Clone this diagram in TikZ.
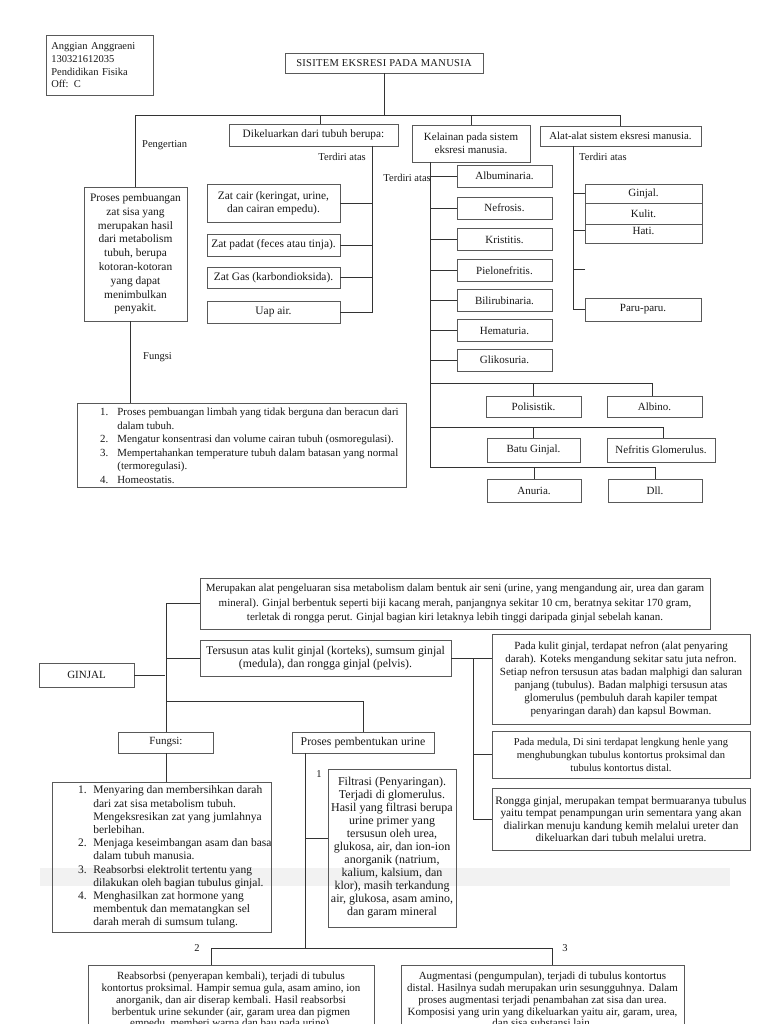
\documentclass[tikz,border=0pt]{standalone}
\usepackage{fontspec}
\setmainfont{Liberation Serif}
\begin{document}
\begin{tikzpicture}[x=1pt,y=-1pt,
  every node/.style={font=\fontsize{10.5}{13.4}\selectfont, inner sep=0pt, text=black!90},
  bx/.style={draw=black!65, line width=0.7pt, align=center},
  ln/.style={draw=black!80, line width=0.8pt},
  lbl/.style={font=\fontsize{10.5}{13.4}\selectfont}]
\useasboundingbox (0,0) rectangle (768,1024);
\clip (0,0) rectangle (768,1024);
\fill[white] (0,0) rectangle (768,1024);
\fill[black!5] (40,868) rectangle (730,886);

% ---------- header ----------
\node[bx, align=left, anchor=north west, text width=97, inner xsep=5, minimum height=60,
      font=\fontsize{10.5}{12.6}\selectfont] (hdr) at (46,35)
  {Anggian Anggraeni\\130321612035\\Pendidikan Fisika\\Off: C};
\node[bx, minimum width=198, minimum height=20] (sis) at (384,63)
  {\addfontfeatures{LetterSpace=3}SISITEM EKSRESI PADA MANUSIA};

% ---------- level 1 ----------
\node[bx, minimum width=169, minimum height=22, font=\fontsize{11.3}{13}\selectfont] (dik) at (313.5,135) {Dikeluarkan dari tubuh berupa:};
\node[bx, minimum width=118, minimum height=37, font=\fontsize{11}{13}\selectfont] (kel) at (471,143.5) {Kelainan pada sistem\\eksresi manusia.};
\node[bx, minimum width=161, minimum height=20, font=\fontsize{10.8}{13}\selectfont] (alat) at (620.5,136) {Alat-alat sistem eksresi manusia.};
\node[bx, minimum width=103, minimum height=134, font=\fontsize{11.4}{13.8}\selectfont] (peng) at (135.5,254)
  {Proses pembuangan\\zat sisa yang\\merupakan hasil\\dari metabolism\\tubuh, berupa\\kotoran-kotoran\\yang dapat\\menimbulkan\\penyakit.};

\draw[ln] (sis.south) -- ++(0,42) coordinate (busc);
\draw[ln] (peng.north) |- (alat.north |- busc) -- (alat.north);
\draw[ln] ([xshift=6.5]dik.north) -- ([xshift=6.5]dik.north |- busc);
\draw[ln] (kel.north) -- (kel.north |- busc);

\node[lbl, anchor=west] (lpeng) at (142,145) {Pengertian};
\node[lbl, anchor=west] (lfung) at (143,357) {Fungsi};

% top fungsi list
\node[bx, anchor=north west, minimum width=329, minimum height=84] (fl) at (77,403) {};
\node[anchor=north west, align=left, font=\fontsize{10.9}{13.5}\selectfont] (flt) at (100,406)
 {\begin{tabular}{@{}r@{\hspace{9pt}}l@{}}
 1. & Proses pembuangan limbah yang tidak berguna dan beracun dari\\
    & dalam tubuh.\\
 2. & Mengatur konsentrasi dan volume cairan tubuh (osmoregulasi).\\
 3. & Mempertahankan temperature tubuh dalam batasan yang normal\\
    & (termoregulasi).\\
 4. & Homeostatis.
 \end{tabular}};
\draw[ln] ([xshift=-5.5]peng.south) -- ([xshift=-5.5]peng.south |- fl.north);

% ---------- dikeluarkan column ----------
\tikzset{zat/.style={bx, minimum width=133, font=\fontsize{11.4}{13}\selectfont}}
\node[zat, minimum height=38] (zc) at (273.5,203) {Zat cair (keringat, urine,\\dan cairan empedu).};
\node[zat, minimum height=22] (zp) at (273.5,245) {Zat padat (feces atau tinja).};
\node[zat, minimum height=21] (zg) at (273.5,277.5) {Zat Gas (karbondioksida).};
\node[zat, minimum height=22] (ua) at (273.5,312) {Uap air.};
\coordinate (dT) at (372,146);
\draw[ln] (dT) |- (ua.east);
\draw[ln] (zc.east) -- (zc.east -| dT);
\draw[ln] (zp.east) -- (zp.east -| dT);
\draw[ln] (zg.east) -- (zg.east -| dT);
\node[lbl, anchor=east] (ldik) at (366,157) {Terdiri atas};

% ---------- kelainan column ----------
\tikzset{kb/.style={bx, font=\fontsize{11}{13}\selectfont}}
\foreach \n/\t/\yy in {k1/Albuminaria./176, k2/Nefrosis./208, k3/Kristitis./239.5, k4/Pielonefritis./270.5,
   k5/Bilirubinaria./300.5, k6/Hematuria./330.5, k7/Glikosuria./360}
  {\node[kb, minimum width=95, minimum height=22] (\n) at (504.5,\yy) {\t};}
\node[kb, minimum width=95, minimum height=21] (pol) at (533.5,406.5) {Polisistik.};
\node[kb, minimum width=95, minimum height=21] (alb) at (654.5,406.5) {Albino.};
\node[kb, minimum width=93, minimum height=24] (batu) at (533.5,450) {Batu Ginjal.};
\node[kb, minimum width=108, minimum height=24] (nef) at (661,450) {Nefritis Glomerulus.};
\node[kb, minimum width=94, minimum height=23] (anu) at (534,490.5) {Anuria.};
\node[kb, minimum width=94, minimum height=23] (dll) at (655,490.5) {Dll.};
\coordinate (kT) at (430,162);
\draw[ln] (kT) |- (dll.north |- 0,467) -- (dll.north);
\draw[ln] (anu.north) -- (anu.north |- 0,467);
\draw[ln] (kT |- 0,383) -- ([xshift=-2.5]alb.north |- 0,383) -- ([xshift=-2.5]alb.north);
\draw[ln] (pol.north) -- (pol.north |- 0,383);
\draw[ln] (kT |- 0,427) -- ([xshift=2]nef.north |- 0,427) -- ([xshift=2]nef.north);
\draw[ln] (batu.north) -- (batu.north |- 0,427);
\foreach \n in {k1,k2,k3,k4,k5,k6,k7} {\draw[ln] (\n.west) -- (\n.west -| kT);}
\node[lbl, anchor=east] (lkel) at (431,178) {Terdiri atas};

% ---------- alat column ----------
\node[kb, minimum width=117, minimum height=25] (hati) at (643.5,230.5) {Hati.};
\node[kb, fill=white, minimum width=117, minimum height=21] (kulit) at (643.5,213.5) {Kulit.};
\node[kb, fill=white, minimum width=117, minimum height=19] (gin) at (643.5,193.5) {Ginjal.};
\node[kb, minimum width=116, minimum height=23] (paru) at (643,309.5) {Paru-paru.};
\coordinate (aT) at (573,146);
\coordinate (aE) at (585,269);
\draw[ln] (aT) |- (paru.west);
\draw[ln] (gin.west) -- (gin.west -| aT);
\draw[ln] (hati.west) -- (hati.west -| aT);
\draw[ln] (aE) -- (aE -| aT);
\node[lbl, anchor=west] (lalat) at (579,157) {Terdiri atas};

% ---------- GINJAL ----------
\node[bx, minimum width=95, minimum height=24, font=\fontsize{11}{13}\selectfont] (gj) at (86.5,675) {GINJAL};
\node[bx, minimum width=510, minimum height=51, font=\fontsize{11}{14.5}\selectfont] (mer) at (455,603.5)
 {Merupakan alat pengeluaran sisa metabolism dalam bentuk air seni (urine, yang mengandung air, urea dan garam\\
  mineral). Ginjal berbentuk seperti biji kacang merah, panjangnya sekitar 10 cm, beratnya sekitar 170 gram,\\
  terletak di rongga perut. Ginjal bagian kiri letaknya lebih tinggi daripada ginjal sebelah kanan.};
\node[bx, minimum width=251, minimum height=36, font=\fontsize{11.8}{12.7}\selectfont] (ter) at (325.5,658)
 {Tersusun atas kulit ginjal (korteks), sumsum ginjal\\(medula), dan rongga ginjal (pelvis).};
\node[bx, minimum width=95, minimum height=21, font=\fontsize{11}{13}\selectfont] (fk) at (166,742.5) {Fungsi:};
\node[bx, minimum width=142, minimum height=21, font=\fontsize{11.8}{13}\selectfont] (pro) at (363,742.5) {Proses pembentukan urine};
\coordinate (gT) at (165,606);
\draw[ln] (gj.east) -- (gj.east -| gT);
\draw[ln] (mer.west) -| (fk.north);
\draw[ln] (ter.west) -- (ter.west -| fk.north);
\draw[ln] (fk.north |- 0,701) -| (pro.north);

\node[bx, minimum width=258, minimum height=90, font=\fontsize{11}{13}\selectfont] (pk) at (621,679)
 {Pada kulit ginjal, terdapat nefron (alat penyaring\\
  darah). Koteks mengandung sekitar satu juta nefron.\\
  Setiap nefron tersusun atas badan malphigi dan saluran\\
  panjang (tubulus). Badan malphigi tersusun atas\\
  glomerulus (pembuluh darah kapiler tempat\\
  penyaringan darah) dan kapsul Bowman.};
\node[bx, minimum width=258, minimum height=47, font=\fontsize{10.5}{13}\selectfont] (pm) at (621,754.5)
 {Pada medula, Di sini terdapat lengkung henle yang\\
  menghubungkan tubulus kontortus proksimal dan\\
  tubulus kontortus distal.};
\node[bx, minimum width=258, minimum height=62, font=\fontsize{11.3}{12.5}\selectfont] (ro) at (621,819)
 {Rongga ginjal, merupakan tempat bermuaranya tubulus\\
  yaitu tempat penampungan urin sementara yang akan\\
  dialirkan menuju kandung kemih melalui ureter dan\\
  dikeluarkan dari tubuh melalui uretra.};
\coordinate (rT) at (473,658);
\draw[ln] (ter.east) -- (ter.east -| pk.west);
\draw[ln] (rT) |- (ro.west);
\draw[ln] (pm.west) -- (pm.west -| rT);

% ginjal fungsi list
\node[bx, anchor=north west, minimum width=219, minimum height=150] (fl2) at (52,782) {};
\node[anchor=north west, align=left, font=\fontsize{11.5}{13.2}\selectfont] (fl2t) at (78,784.5)
 {\begin{tabular}{@{}r@{\hspace{6.5pt}}l@{}}
 1. & Menyaring dan membersihkan darah\\
    & dari zat sisa metabolism tubuh.\\
    & Mengeksresikan zat yang jumlahnya\\
    & berlebihan.\\
 2. & Menjaga keseimbangan asam dan basa\\
    & dalam tubuh manusia.\\
 3. & Reabsorbsi elektrolit tertentu yang\\
    & dilakukan oleh bagian tubulus ginjal.\\
 4. & Menghasilkan zat hormone yang\\
    & membentuk dan mematangkan sel\\
    & darah merah di sumsum tulang.
 \end{tabular}};
\draw[ln] (fk.south) -- (fk.south |- fl2.north);

% proses
\node[bx, minimum width=128, minimum height=158, font=\fontsize{12}{13}\selectfont] (fil) at (392,848)
 {Filtrasi (Penyaringan).\\Terjadi di glomerulus.\\Hasil yang filtrasi berupa\\urine primer yang\\
  tersusun oleh urea,\\glukosa, air, dan ion-ion\\anorganik (natrium,\\kalium, kalsium, dan\\
  klor), masih terkandung\\air, glukosa, asam amino,\\dan garam mineral};
\node[lbl] (n1) at (319,774) {1};
\coordinate (pT) at (305,753);
\coordinate (pB) at (305,948);
\draw[ln] (pT) -- (pB);
\draw[ln] ([yshift=10]fil.west) -- ([yshift=10]fil.west -| pT);

\node[bx, anchor=north, minimum width=286, inner ysep=7, font=\fontsize{11}{11.7}\selectfont] (reab) at (231,965)
 {Reabsorbsi (penyerapan kembali), terjadi di tubulus\\
  kontortus proksimal. Hampir semua gula, asam amino, ion\\
  anorganik, dan air diserap kembali. Hasil reabsorbsi\\
  berbentuk urine sekunder (air, garam urea dan pigmen\\
  empedu, memberi warna dan bau pada urine).\\ \strut};
\node[bx, anchor=north, minimum width=283, inner ysep=7, font=\fontsize{11}{11.7}\selectfont] (aug) at (542.5,965)
 {Augmentasi (pengumpulan), terjadi di tubulus kontortus\\
  distal. Hasilnya sudah merupakan urin sesungguhnya. Dalam\\
  proses augmentasi terjadi penambahan zat sisa dan urea.\\
  Komposisi yang urin yang dikeluarkan yaitu air, garam, urea,\\
  dan sisa substansi lain.\\ \strut};
\draw[ln] ([xshift=-20]reab.north) |- (pB) -| ([xshift=9.5]aug.north);
\node[lbl] (n2) at (197,948) {2};
\node[lbl] (n3) at (565,948) {3};
\end{tikzpicture}
\end{document}
